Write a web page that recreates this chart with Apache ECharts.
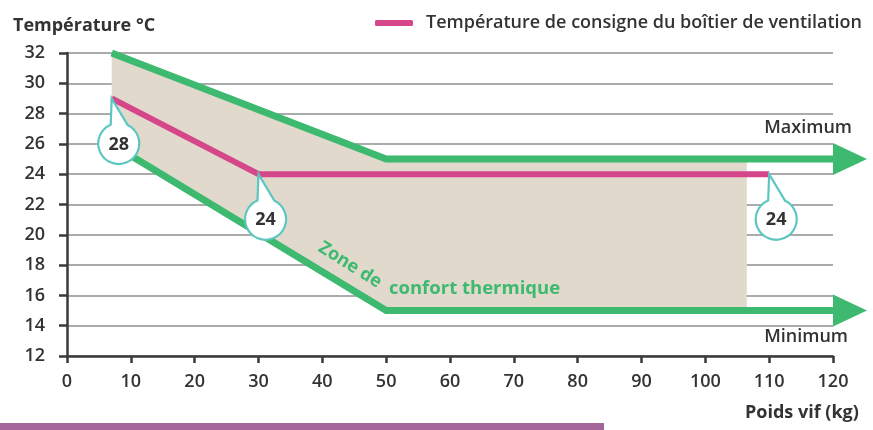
<!DOCTYPE html>
<html>
<head>
<meta charset="utf-8">
<script src="https://cdn.jsdelivr.net/npm/echarts@6/dist/echarts.min.js"></script>
<style>
html,body{margin:0;padding:0;background:#fff;}
#chart{width:873px;height:430px;}
</style>
</head>
<body>
<div id="chart"></div>
<script>
// ---- data ----
const xTicks = [0, 10, 20, 30, 40, 50, 60, 70, 80, 90, 100, 110, 120];
const yTicks = [12, 14, 16, 18, 20, 22, 24, 26, 28, 30, 32];
const maxX = [7, 50, 120];
const maxY = [32, 25, 25];
const minX = [7, 50, 120];
const minY = [26, 15, 15];
const consigneX = [7, 30, 110];
const consigneY = [29, 24, 24];
const zoneX = [7, 50, 106.5, 106.5, 50, 7];
const zoneY = [32, 25, 25, 15, 15, 26];
const calloutX = [7, 30, 110];
const calloutY = [29, 24, 24];
const calloutLabels = ['28', '24', '24'];
const arrowX = [120, 120];
const arrowY = [25, 15];
const legendName = 'Température de consigne du boîtier de ventilation';

const FONT = '"Open Sans", "Noto Sans", sans-serif';
const GREEN = '#3dba70';
const PINK = '#d5468a';
const TEAL = '#5cc6c1';
const DARK = '#333333';
const AXIS = '#3a3a3a';

const zip = (a, b) => a.map((v, i) => [v, b[i]]);

const chart = echarts.init(document.getElementById('chart'), null, {renderer: 'canvas'});

const option = {
  backgroundColor: '#ffffff',
  animation: false,
  textStyle: {fontFamily: FONT},
  title: {
    text: 'Température °C',
    left: 8, top: 12,
    textStyle: {fontFamily: FONT, fontSize: 18, fontWeight: 700, color: DARK}
  },
  legend: {
    data: [legendName],
    left: 370, top: 9,
    icon: 'roundRect',
    itemWidth: 38, itemHeight: 6,
    textStyle: {fontFamily: FONT, fontSize: 18, fontWeight: 600, color: DARK, padding: [0, 0, 0, 8]}
  },
  grid: {left: 67, right: 40, top: 53, bottom: 74, containLabel: false},
  xAxis: {
    type: 'value', min: 0, max: 120, interval: 10,
    axisLine: {show: true, lineStyle: {color: AXIS, width: 2.5}},
    axisTick: {show: true, length: 7, lineStyle: {color: AXIS, width: 2.5}},
    axisLabel: {margin: 17, fontFamily: FONT, fontSize: 18, fontWeight: 600, color: DARK,
      formatter: v => xTicks.includes(v) ? String(v) : ''},
    splitLine: {show: false}
  },
  yAxis: {
    type: 'value', min: 12, max: 32, interval: 2,
    axisLine: {show: true, lineStyle: {color: AXIS, width: 2.5}},
    axisTick: {show: true, length: 8, lineStyle: {color: AXIS, width: 2.5}},
    axisLabel: {margin: 22, fontFamily: FONT, fontSize: 18, fontWeight: 600, color: DARK,
      formatter: v => yTicks.includes(v) ? String(v) : ''},
    splitLine: {show: true, lineStyle: {color: '#8f8f8f', width: 1.5}}
  },
  graphic: [
    {type: 'text', z: 20, left: 745, top: 404, style: {text: 'Poids vif (kg)', font: '700 18px ' + FONT, fill: DARK}},
    {type: 'text', z: 20, right: 21, top: 119, style: {text: 'Maximum', font: '600 18px ' + FONT, fill: DARK}},
    {type: 'text', z: 20, right: 25, top: 328, style: {text: 'Minimum', font: '600 18px ' + FONT, fill: DARK}},
    {type: 'text', z: 20, x: 350, y: 265, rotation: -0.56,
      style: {text: 'Zone de', font: '700 18px ' + FONT, fill: GREEN, textAlign: 'center', textVerticalAlign: 'middle'}},
    {type: 'text', z: 20, x: 389, y: 289,
      style: {text: 'confort thermique', font: '700 18.5px ' + FONT, fill: GREEN, textAlign: 'left', textVerticalAlign: 'middle'}},
    {type: 'rect', z: 20, left: 0, top: 423, shape: {width: 604, height: 12}, style: {fill: '#a4659b'}}
  ],
  series: [
    {
      type: 'custom', name: 'zone', z: 1, silent: true,
      data: [[zoneX[0], zoneY[0]]],
      renderItem: function (params, api) {
        const pts = zoneX.map((x, i) => api.coord([x, zoneY[i]]));
        return {type: 'polygon', shape: {points: pts}, style: {fill: '#e0d9cc'}};
      }
    },
    {
      type: 'line', name: 'Maximum', z: 3, data: zip(maxX, maxY),
      showSymbol: false, symbol: 'none', lineStyle: {color: GREEN, width: 7, join: 'miter'}, silent: true
    },
    {
      type: 'line', name: 'Minimum', z: 3, data: zip(minX, minY),
      showSymbol: false, symbol: 'none', lineStyle: {color: GREEN, width: 7, join: 'miter'}, silent: true
    },
    {
      type: 'scatter', name: 'arrows', z: 3, clip: false, silent: true,
      data: zip(arrowX, arrowY),
      symbol: 'path://M0,0 L34,16 L0,32 Z', symbolSize: [34, 32], symbolOffset: [17, 0],
      itemStyle: {color: GREEN, opacity: 1}
    },
    {
      type: 'line', name: legendName, z: 4, data: zip(consigneX, consigneY),
      showSymbol: false, symbol: 'none', itemStyle: {color: PINK},
      lineStyle: {color: PINK, width: 6}, silent: true
    },
    {
      type: 'custom', name: 'callouts', z: 5, silent: true, clip: false,
      data: calloutX.map((x, i) => [x, calloutY[i], i]),
      renderItem: function (params, api) {
        const p = api.coord([api.value(0), api.value(1)]);
        const label = calloutLabels[api.value(2)];
        const cx = p[0] + 7, cy = p[1] + 45, r = 20.5;
        const lx = cx - 8, ly = cy - 18.8, rx = cx + 9, ry = cy - 18.4;
        const d = 'M' + p[0] + ' ' + p[1] + ' L' + lx + ' ' + ly +
          ' A' + r + ' ' + r + ' 0 1 0 ' + rx + ' ' + ry + ' Z';
        return {
          type: 'group',
          children: [
            {type: 'path', shape: {pathData: d}, style: {fill: '#ffffff', stroke: TEAL, lineWidth: 2.2}},
            {type: 'text', style: {text: label, x: cx, y: cy + 1, textAlign: 'center', textVerticalAlign: 'middle',
              font: '700 18px ' + FONT, fill: DARK}}
          ]
        };
      }
    }
  ]
};
chart.setOption(option);
</script>
</body>
</html>
